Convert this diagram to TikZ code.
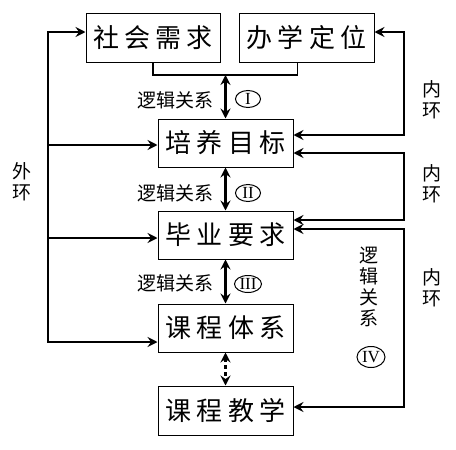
\documentclass[tikz,border=0pt]{standalone}
\usepackage{fontspec}
\usetikzlibrary{arrows.meta,calc,positioning,shapes.geometric}
\newfontfamily\cjk{Noto Sans CJK SC}
\newfontfamily\cjkbox[LetterSpace=20]{Noto Sans CJK SC}
\newfontfamily\numfont{Liberation Serif}

\begin{document}
\begin{tikzpicture}[
    x=1pt, y=-1pt,
    box/.style={draw=black, line width=1pt, minimum width=135pt, minimum height=48pt,
                inner sep=0pt, font=\cjkbox\fontsize{26}{26}\selectfont},
    link/.style={line width=2.2pt},
    arr/.style={link, -{Stealth[length=10pt,width=10pt,inset=3.5pt]}},
    dbl/.style={link, {Stealth[length=10pt,width=10pt,inset=3.5pt]}-{Stealth[length=10pt,width=10pt,inset=3.5pt]}},
    lbl/.style={font=\cjk\fontsize{19}{21}\selectfont, inner sep=0pt},
    num/.style={draw=black, line width=1pt, ellipse, inner sep=0pt,
                minimum width=25pt, minimum height=17pt,
                font=\numfont\fontsize{17}{17}\selectfont}
]

\useasboundingbox (0,0) rectangle (456,450);

% boxes
\node[box, minimum width=134pt, minimum height=49pt] (need) at (153,37.5) {社会需求};
\node[box, minimum height=49pt] (pos) at (306.5,37.5) {办学定位};
\node[box] (goal) at (225.5,143) {培养目标};
\node[box] (grad) at (225.5,235) {毕业要求};
\node[box] (sys) at (225.5,328) {课程体系};
\node[box, minimum height=49pt] (teach) at (225.5,410.5) {课程教学};

% bracket under the top two boxes
\coordinate (brk) at (225.5,75);
\draw[line width=1.6pt] (need.south) |- (brk) -| ($(pos.south)+(-9,0)$);

% logic chain
\draw[dbl] (brk) -- (goal.north);
\draw[dbl] (goal.south) -- (grad.north);
\draw[dbl] (grad.south) -- (sys.north);
\draw[dbl, dashed, dash pattern=on 4pt off 3pt] (sys.south) -- (teach.north);

\node[lbl, anchor=east] (l1) at (214,100) {逻辑关系};
\node[lbl, anchor=east] (l2) at (214,193) {逻辑关系};
\node[lbl, anchor=east] (l3) at (214,283) {逻辑关系};
\node[num] (n1) at (248,99) {I};
\node[num] (n2) at (248,193) {II};
\node[num, minimum width=27pt] (n3) at (248,284) {III};

% outer loop
\coordinate (o1) at (48,32);
\coordinate (o2) at (48,145);
\coordinate (o3) at (48,238);
\coordinate (o4) at (48,342);
\draw[link, line cap=rect] (o1) -- (o4);
\draw[arr] (o1) -- (need.west |- o1);
\draw[arr] (o2) -- (goal.west |- o2);
\draw[arr] (o3) -- (grad.west |- o3);
\draw[arr] (o4) -- (sys.west |- o4);
\node[lbl, align=center] (outer) at (22,182) {外\\环};

% inner loops
\coordinate (r1) at (404,32);
\coordinate (r2) at (404,135);
\draw[dbl] (pos.east |- r1) -- (r1) -- (r2) -- (goal.east |- r2);
\coordinate (r3) at (404,153);
\coordinate (r4) at (404,220);
\draw[dbl] (goal.east |- r3) -- (r3) -- (r4) -- (grad.east |- r4);
\coordinate (r5) at (404,229);
\coordinate (r6) at (404,407);
\draw[dbl] (grad.east |- r5) -- (r5) -- (r6) -- (teach.east |- r6);

\node[lbl, align=center] (in1) at (432,100) {内\\环};
\node[lbl, align=center] (in2) at (432,184) {内\\环};
\node[lbl, align=center] (in3) at (432,288) {内\\环};

\node[lbl, align=center, font=\cjk\fontsize{19}{21}\selectfont] (l4) at (369,287) {逻\\辑\\关\\系};
\node[num, minimum width=28pt, minimum height=21pt] (n4) at (371,357) {IV};

\end{tikzpicture}
\end{document}
